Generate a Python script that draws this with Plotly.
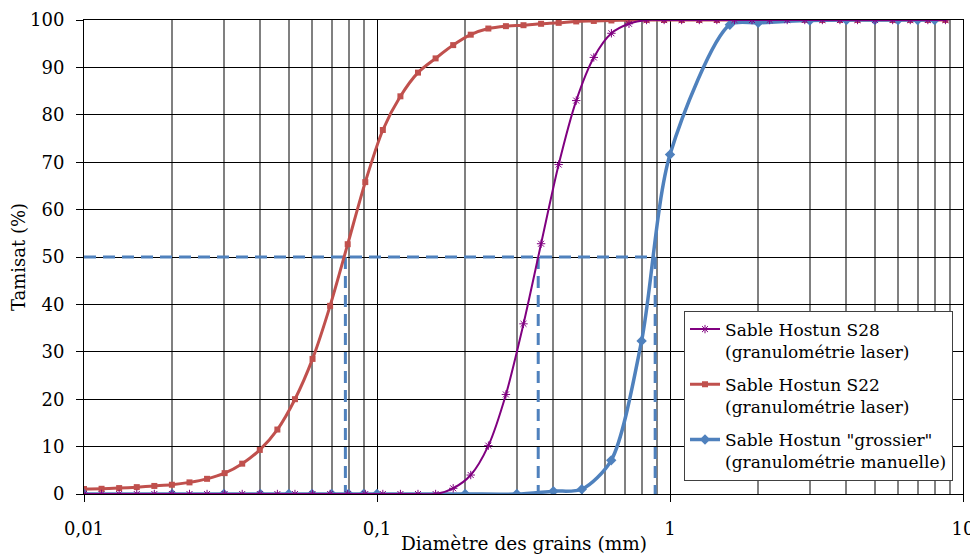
import plotly.graph_objects as go

# ---------------- data ----------------
laser_d = [0.01, 0.01148, 0.01318, 0.01514, 0.01738, 0.01995, 0.02291, 0.0263, 0.0302, 0.03467,
           0.03981, 0.04571, 0.05248, 0.06026, 0.06918, 0.07943, 0.0912, 0.1047, 0.1202, 0.138,
           0.1585, 0.182, 0.2089, 0.2399, 0.2754, 0.3162, 0.3631, 0.4169, 0.4786, 0.5495,
           0.631, 0.7244, 0.8318, 0.955, 1.096, 1.259, 1.445, 1.66, 1.905, 2.188,
           2.512, 2.884, 3.311, 3.802, 4.365, 5.012, 5.754, 6.607, 7.586, 8.71]

s28 = [0, 0, 0, 0, 0, 0, 0, 0, 0, 0,
       0, 0, 0, 0, 0, 0, 0, 0, 0, 0,
       0, 1.2, 4.0, 10.2, 21.0, 35.9, 52.8, 69.5, 83.0, 92.1,
       97.2, 99.2, 100, 100, 100, 100, 100, 100, 100, 100,
       100, 100, 100, 100, 100, 100, 100, 100, 100, 100]

s22 = [1.05, 1.1, 1.25, 1.45, 1.7, 1.95, 2.45, 3.2, 4.4, 6.4,
       9.3, 13.6, 20.0, 28.5, 39.7, 52.7, 65.8, 76.8, 83.9, 88.9,
       91.9, 94.7, 96.9, 98.2, 98.7, 98.9, 99.2, 99.4, 99.7, 99.8,
       99.9, 99.95, 100, 100, 100, 100, 100, 100, 100, 100,
       100, 100, 100, 100, 100, 100, 100, 100, 100, 100]

sieve_d = [0.01, 0.02, 0.03, 0.04, 0.05, 0.06, 0.07, 0.08, 0.09, 0.1,
           0.2, 0.3, 0.4, 0.5, 0.63, 0.8, 1.0, 1.6, 2.0, 3.0,
           4.0, 5.0, 6.0, 7.0, 8.0]
grossier = [0, 0, 0, 0, 0, 0, 0, 0, 0, 0,
            0, 0, 0.6, 1.0, 7.1, 32.3, 71.6, 99.0, 99.4, 99.9,
            100, 100, 100, 100, 100]

d50_values = [0.078, 0.355, 0.89]
d50_level = 50
x_min = 0.01

x_tickvals = [0.01, 0.1, 1, 10]
x_ticktext = ["0,01", "0,1", "1", "10"]

names = ["Sable Hostun S28<br>(granulométrie laser)",
         "Sable Hostun S22<br>(granulométrie laser)",
         "Sable Hostun \"grossier\"<br>(granulométrie manuelle)"]

# ---------------- colours / fonts ----------------
PURPLE = "#800080"
RED = "#C0504D"
BLUE = "#4F81BD"
FONT = "DejaVu Serif"

# dashed D50 guide lines
dx, dy = [x_min, max(d50_values)], [d50_level, d50_level]
for d in d50_values:
    dx += [None, d, d]
    dy += [None, d50_level, 0]

fig = go.Figure()
fig.add_trace(go.Scatter(x=dx, y=dy, mode="lines", showlegend=False, hoverinfo="skip",
                         line=dict(color=BLUE, width=3, dash="12px,7px")))
fig.add_trace(go.Scatter(x=laser_d, y=s22, name=names[1], mode="lines+markers",
                         legendrank=2, legendgroup="s22",
                         line=dict(color=RED, width=3, shape="spline", smoothing=0.8),
                         marker=dict(symbol="square", size=6, color=RED)))
fig.add_trace(go.Scatter(x=sieve_d, y=grossier, name=names[2], mode="lines+markers",
                         legendrank=3, legendgroup="grossier",
                         line=dict(color=BLUE, width=3.5, shape="spline", smoothing=0.8),
                         marker=dict(symbol="diamond", size=8, color=BLUE)))
fig.add_trace(go.Scatter(x=laser_d, y=s28, name=names[0], mode="lines+markers",
                         legendrank=1, legendgroup="s28",
                         line=dict(color=PURPLE, width=2, shape="spline", smoothing=0.8),
                         marker=dict(symbol="asterisk-open", size=7, color=PURPLE,
                                     line=dict(color=PURPLE, width=1))))

# the page body has an 8px margin: figure drawn from (8, 8)
fig.update_layout(
    width=970, height=548,
    margin=dict(l=76, r=15, t=12, b=62, autoexpand=False),
    paper_bgcolor="white", plot_bgcolor="white",
    font=dict(family=FONT, size=18, color="black"),
    showlegend=True,
    legend=dict(x=0.6826, y=0.387, xanchor="left", yanchor="top",
                bgcolor="white", bordercolor="#404040", borderwidth=1,
                font=dict(family=FONT, size=17, color="black"),
                valign="top", tracegroupgap=8),
    annotations=[dict(text="Diamètre des grains (mm)", xref="paper", yref="paper",
                      x=0.5, y=0, xanchor="center", yanchor="top", yshift=-37,
                      showarrow=False, font=dict(family=FONT, size=18.5, color="black"))],
)

fig.update_xaxes(
    type="log", range=[-2, 1], automargin=False,
    tickvals=x_tickvals, ticktext=x_ticktext,
    ticks="outside", ticklen=7, tickcolor="black", tickwidth=1,
    ticklabelstandoff=11,
    showgrid=True, gridcolor="black", gridwidth=1,
    showline=True, linecolor="black", linewidth=1, mirror=True,
    zeroline=False,
    minor=dict(tickvals=[m * 10 ** e for e in (-2, -1, 0) for m in range(2, 10)],
               showgrid=True, gridcolor="#808080", gridwidth=1.5, ticks=""),
)
fig.update_yaxes(
    range=[0, 100], dtick=10, automargin=False,
    ticks="outside", ticklen=7, tickcolor="black", tickwidth=1,
    ticklabelstandoff=8,
    showgrid=True, gridcolor="black", gridwidth=1,
    showline=True, linecolor="black", linewidth=1, mirror=True,
    zeroline=False,
    title=dict(text="Tamisat (%)", standoff=6, font=dict(family=FONT, size=18)),
)

fig.write_html("out.html")
